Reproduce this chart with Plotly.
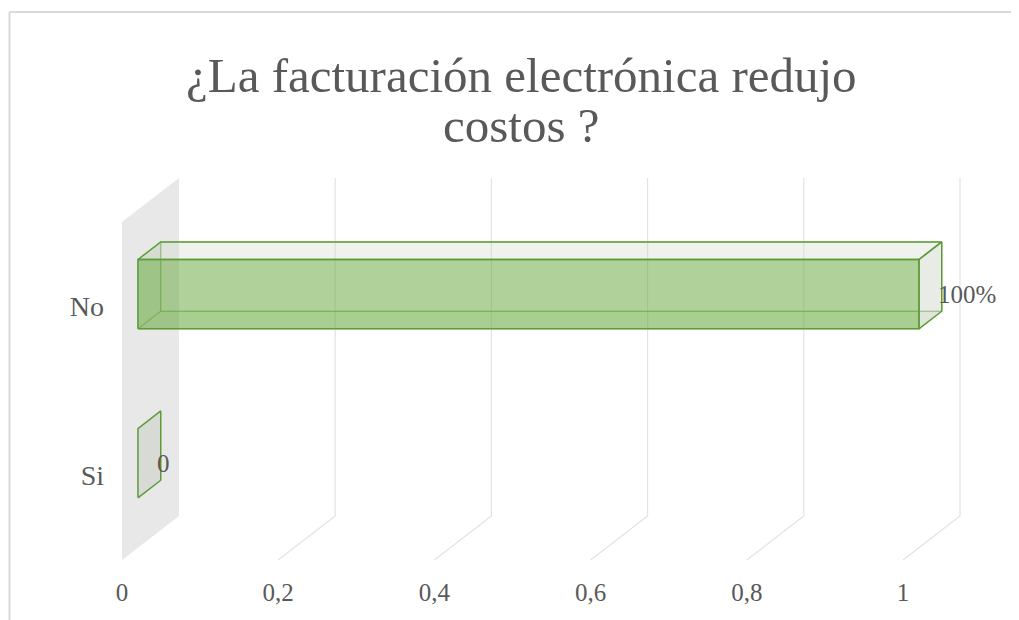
import plotly.graph_objects as go

# data
categories = ["Si", "No"]
values = [0, 1]
value_labels = ["0", "100%"]
tick_vals = [0, 0.2, 0.4, 0.6, 0.8, 1]
tick_text = ["0", "0,2", "0,4", "0,6", "0,8", "1"]
title_lines = ["¿La facturación electrónica redujo", "costos ?"]

# pseudo 3d look (Excel style 3-D bar)
# page has an 8px body margin, so the figure is 8px smaller than the window
OFF = 8
W, H = 1019 - OFF, 620 - OFF
L, R, T, B = 105 - OFF, 0, 0, 45
X0_PX, X_SCALE = 122 - OFF, 781  # value 0 and 1 on front plane
Y0_PX, Y_SCALE = 475.5 - OFF, 169
DX = 57 / X_SCALE                # full depth offset in value units
DY = 44 / Y_SCALE                # full depth offset in category units
BAR_H = 0.41
D1, D2 = 0.28, 0.68              # bar front / back depth

FONT = "Liberation Serif"
TXT = "#595959"
GREEN_EDGE = "#5e9c3a"


def proj(v, y, d):
    return v + d * DX, y + d * DY


def poly(pts):
    xs = [p[0] for p in pts] + [pts[0][0]]
    ys = [p[1] for p in pts] + [pts[0][1]]
    return xs, ys


fig = go.Figure()

# side wall at value 0
lo, hi = -0.5, len(categories) - 0.5
wx, wy = poly([proj(0, lo, 0), proj(0, lo, 1), proj(0, hi, 1), proj(0, hi, 0)])
fig.add_trace(go.Scatter(x=wx, y=wy, mode="lines", fill="toself",
                         fillcolor="#e8e8e8", line=dict(width=0),
                         hoverinfo="skip", showlegend=False))

# gridlines: back wall + floor diagonal
for v in tick_vals[1:]:
    pts = [proj(v, lo, 0), proj(v, lo, 1), proj(v, hi, 1)]
    fig.add_trace(go.Scatter(x=[p[0] for p in pts], y=[p[1] for p in pts],
                             mode="lines", line=dict(color="#e3e3e3", width=1.2),
                             hoverinfo="skip", showlegend=False))


def face(pts, fill, edge, width):
    xs, ys = poly(pts)
    fig.add_trace(go.Scatter(x=xs, y=ys, mode="lines", fill="toself",
                             fillcolor=fill, line=dict(color=edge, width=width),
                             hoverinfo="skip", showlegend=False))


for i, (cat, v) in enumerate(zip(categories, values)):
    y0, y1 = i - BAR_H / 2, i + BAR_H / 2
    if v == 0:
        face([proj(0, y0, D1), proj(0, y0, D2), proj(0, y1, D2), proj(0, y1, D1)],
             "rgba(205,210,200,0.6)", GREEN_EDGE, 1.5)
        continue
    # hidden faces first
    face([proj(0, y0, D2), proj(v, y0, D2), proj(v, y1, D2), proj(0, y1, D2)],
         "rgba(0,0,0,0)", "rgba(94,156,58,0.55)", 1)
    face([proj(0, y0, D1), proj(0, y0, D2), proj(0, y1, D2), proj(0, y1, D1)],
         "rgba(112,173,71,0.12)", "rgba(94,156,58,0.55)", 1)
    face([proj(0, y0, D1), proj(v, y0, D1), proj(v, y0, D2), proj(0, y0, D2)],
         "rgba(112,173,71,0.12)", "rgba(94,156,58,0.55)", 1)
    # visible faces
    face([proj(0, y1, D1), proj(v, y1, D1), proj(v, y1, D2), proj(0, y1, D2)],
         "rgba(205,212,198,0.3)", GREEN_EDGE, 1.5)
    face([proj(v, y0, D1), proj(v, y0, D2), proj(v, y1, D2), proj(v, y1, D1)],
         "rgba(200,206,194,0.4)", GREEN_EDGE, 1.5)
    face([proj(0, y0, D1), proj(v, y0, D1), proj(v, y1, D1), proj(0, y1, D1)],
         "rgba(112,173,71,0.55)", GREEN_EDGE, 1.5)

# data labels
for i, (v, lab) in enumerate(zip(values, value_labels)):
    fig.add_annotation(x=v, y=i, text=lab, showarrow=False, xref="x", yref="y",
                       xanchor="left", yanchor="middle", xshift=33, yshift=12,
                       font=dict(family=FONT, size=25, color=TXT))

# title, two lines placed separately to keep tight line spacing
pw, ph = W - L - R, H - T - B
title_y_px = [75 - OFF, 125 - OFF]
for line, ypx in zip(title_lines, title_y_px):
    fig.add_annotation(x=(521 - OFF - L) / pw, y=(H - B - ypx) / ph,
                       xref="paper", yref="paper",
                       text=line, showarrow=False, xanchor="center", yanchor="middle",
                       font=dict(family=FONT, size=49, color=TXT))

# chart border, only top and left edges are in view
bx = (9.5 - OFF - L) / pw
by = (H - B - (12 - OFF)) / ph
border = dict(color="#d9d9d9", width=2)
fig.add_shape(type="line", xref="paper", yref="paper", x0=bx, x1=1.0, y0=by, y1=by,
              line=border, layer="below")
fig.add_shape(type="line", xref="paper", yref="paper", x0=bx, x1=bx, y0=-0.1, y1=by,
              line=border, layer="below")

fig.update_layout(
    width=W, height=H,
    margin=dict(l=L, r=R, t=T, b=B),
    plot_bgcolor="white", paper_bgcolor="white",
    showlegend=False,
    xaxis=dict(range=[(L - X0_PX) / X_SCALE, (W - R - X0_PX) / X_SCALE],
               tickvals=tick_vals, ticktext=tick_text, showgrid=False,
               zeroline=False, showline=False, ticks="",
               tickfont=dict(family=FONT, size=25, color=TXT)),
    yaxis=dict(range=[(Y0_PX - (H - B)) / Y_SCALE, (Y0_PX - T) / Y_SCALE],
               tickvals=list(range(len(categories))), ticktext=categories,
               showgrid=False, zeroline=False, showline=False, ticks="",
               tickfont=dict(family=FONT, size=28, color=TXT)),
)

# no scrollbars from the body margin
fig.write_html("out.html", post_script="document.documentElement.style.overflow='hidden';"
                                       "document.body.style.overflow='hidden';")
